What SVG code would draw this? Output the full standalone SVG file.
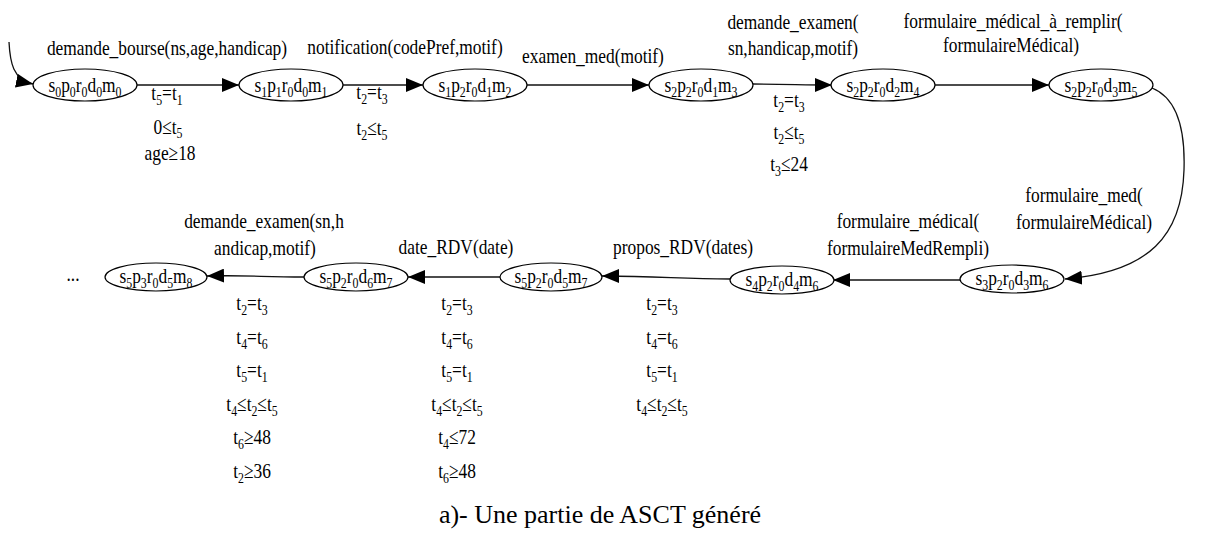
<svg xmlns="http://www.w3.org/2000/svg" width="1217" height="545" viewBox="0 0 1217 545">
<style>
.bg{fill:#fff}
.node ellipse{fill:#fff;stroke:#000;stroke-width:1.2}
.t{font-size:22px;fill:#000;text-anchor:middle}
.s{font-size:15px}
.title{font-size:26px;fill:#000;text-anchor:middle}
.edge{fill:none;stroke:#111;stroke-width:1.3;marker-end:url(#ah)}
</style>
<defs>
<marker id="ah" markerUnits="userSpaceOnUse" viewBox="0 0 17 14" refX="17" refY="7" markerWidth="17" markerHeight="14" orient="auto">
<path d="M0,0 L17,7 L0,14 z" fill="#000"/>
</marker>
</defs>
<rect class="bg" x="0" y="0" width="1217" height="545"/>

<g id="connectors">
<path class="edge" d="M9,42 C10,62 13,80 33,84"/>
<path class="edge" d="M137,85 L239,85"/>
<path class="edge" d="M343,85 L423,85"/>
<path class="edge" d="M527,85 L649,85"/>
<path class="edge" d="M753,84 C790,84 800,85 832,85"/>
<path class="edge" d="M935,85 L1049,85"/>
<path class="edge" d="M1152,88 C1182,100 1185,140 1184,170 C1182,235 1150,272 1065,279"/>
<path class="edge" d="M960,280 L833,280"/>
<path class="edge" d="M730,279 C680,279 660,276 602,276"/>
<path class="edge" d="M500,277 L408,277"/>
<path class="edge" d="M304,277 C260,277 250,275 207,276"/>

<g id="e0-label">
<text class="t" font-family="Liberation Serif" transform="translate(167,55) scale(0.79,1)">demande_bourse(ns,age,handicap)</text>
<text class="t" font-family="Liberation Serif" transform="translate(167,100) scale(0.79,1)">t<tspan class="s" dy="5">5</tspan><tspan dy="-5">=t</tspan><tspan class="s" dy="5">1</tspan></text>
<text class="t" font-family="Liberation Serif" transform="translate(168,134) scale(0.79,1)">0≤t<tspan class="s" dy="4">5</tspan></text>
<text class="t" font-family="Liberation Serif" transform="translate(170,160) scale(0.79,1)">age≥18</text>
</g>
<g id="e1-label">
<text class="t" font-family="Liberation Serif" transform="translate(405,54) scale(0.79,1)">notification(codePref,motif)</text>
<text class="t" font-family="Liberation Serif" transform="translate(372,99) scale(0.79,1)">t<tspan class="s" dy="5">2</tspan><tspan dy="-5">=t</tspan><tspan class="s" dy="5">3</tspan></text>
<text class="t" font-family="Liberation Serif" transform="translate(372,135) scale(0.79,1)">t<tspan class="s" dy="5">2</tspan><tspan dy="-5">≤t</tspan><tspan class="s" dy="5">5</tspan></text>
</g>
<g id="e2-label">
<text class="t" font-family="Liberation Serif" transform="translate(593,63) scale(0.79,1)">examen_med(motif)</text>
</g>
<g id="e3-label">
<text class="t" font-family="Liberation Serif" transform="translate(793,29) scale(0.79,1)">demande_examen(</text>
<text class="t" font-family="Liberation Serif" transform="translate(793,55) scale(0.79,1)">sn,handicap,motif)</text>
<text class="t" font-family="Liberation Serif" transform="translate(789,107) scale(0.79,1)">t<tspan class="s" dy="5">2</tspan><tspan dy="-5">=t</tspan><tspan class="s" dy="5">3</tspan></text>
<text class="t" font-family="Liberation Serif" transform="translate(789,139) scale(0.79,1)">t<tspan class="s" dy="5">2</tspan><tspan dy="-5">≤t</tspan><tspan class="s" dy="5">5</tspan></text>
<text class="t" font-family="Liberation Serif" transform="translate(789,171) scale(0.79,1)">t<tspan class="s" dy="5">3</tspan><tspan dy="-5">≤24</tspan></text>
</g>
<g id="e4-label">
<text class="t" font-family="Liberation Serif" transform="translate(1013,28) scale(0.79,1)">formulaire_médical_à_remplir(</text>
<text class="t" font-family="Liberation Serif" transform="translate(1011,52) scale(0.79,1)">formulaireMédical)</text>
</g>
<g id="e5-label">
<text class="t" font-family="Liberation Serif" transform="translate(1084,202) scale(0.79,1)">formulaire_med(</text>
<text class="t" font-family="Liberation Serif" transform="translate(1084,229) scale(0.79,1)">formulaireMédical)</text>
</g>
<g id="e6-label">
<text class="t" font-family="Liberation Serif" transform="translate(908,228) scale(0.79,1)">formulaire_médical(</text>
<text class="t" font-family="Liberation Serif" transform="translate(908,255) scale(0.79,1)">formulaireMedRempli)</text>
</g>
<g id="e7-label">
<text class="t" font-family="Liberation Serif" transform="translate(683,254) scale(0.79,1)">propos_RDV(dates)</text>
<text class="t" font-family="Liberation Serif" transform="translate(662,310) scale(0.79,1)">t<tspan class="s" dy="5">2</tspan><tspan dy="-5">=t</tspan><tspan class="s" dy="5">3</tspan></text>
<text class="t" font-family="Liberation Serif" transform="translate(662,343.5) scale(0.79,1)">t<tspan class="s" dy="5">4</tspan><tspan dy="-5">=t</tspan><tspan class="s" dy="5">6</tspan></text>
<text class="t" font-family="Liberation Serif" transform="translate(662,377) scale(0.79,1)">t<tspan class="s" dy="5">5</tspan><tspan dy="-5">=t</tspan><tspan class="s" dy="5">1</tspan></text>
<text class="t" font-family="Liberation Serif" transform="translate(662,410.5) scale(0.79,1)">t<tspan class="s" dy="5">4</tspan><tspan dy="-5">≤t</tspan><tspan class="s" dy="5">2</tspan><tspan dy="-5">≤t</tspan><tspan class="s" dy="5">5</tspan></text>
</g>
<g id="e8-label">
<text class="t" font-family="Liberation Serif" transform="translate(456,254) scale(0.79,1)">date_RDV(date)</text>
<text class="t" font-family="Liberation Serif" transform="translate(457,310) scale(0.79,1)">t<tspan class="s" dy="5">2</tspan><tspan dy="-5">=t</tspan><tspan class="s" dy="5">3</tspan></text>
<text class="t" font-family="Liberation Serif" transform="translate(457,343.5) scale(0.79,1)">t<tspan class="s" dy="5">4</tspan><tspan dy="-5">=t</tspan><tspan class="s" dy="5">6</tspan></text>
<text class="t" font-family="Liberation Serif" transform="translate(457,377) scale(0.79,1)">t<tspan class="s" dy="5">5</tspan><tspan dy="-5">=t</tspan><tspan class="s" dy="5">1</tspan></text>
<text class="t" font-family="Liberation Serif" transform="translate(457,410.5) scale(0.79,1)">t<tspan class="s" dy="5">4</tspan><tspan dy="-5">≤t</tspan><tspan class="s" dy="5">2</tspan><tspan dy="-5">≤t</tspan><tspan class="s" dy="5">5</tspan></text>
<text class="t" font-family="Liberation Serif" transform="translate(457,444) scale(0.79,1)">t<tspan class="s" dy="5">4</tspan><tspan dy="-5">≤72</tspan></text>
<text class="t" font-family="Liberation Serif" transform="translate(457,477.5) scale(0.79,1)">t<tspan class="s" dy="5">6</tspan><tspan dy="-5">≥48</tspan></text>
</g>
<g id="e9-label">
<text class="t" font-family="Liberation Serif" transform="translate(264,228) scale(0.79,1)">demande_examen(sn,h</text>
<text class="t" font-family="Liberation Serif" transform="translate(265,255) scale(0.79,1)">andicap,motif)</text>
<text class="t" font-family="Liberation Serif" transform="translate(252,310) scale(0.79,1)">t<tspan class="s" dy="5">2</tspan><tspan dy="-5">=t</tspan><tspan class="s" dy="5">3</tspan></text>
<text class="t" font-family="Liberation Serif" transform="translate(252,343.5) scale(0.79,1)">t<tspan class="s" dy="5">4</tspan><tspan dy="-5">=t</tspan><tspan class="s" dy="5">6</tspan></text>
<text class="t" font-family="Liberation Serif" transform="translate(252,377) scale(0.79,1)">t<tspan class="s" dy="5">5</tspan><tspan dy="-5">=t</tspan><tspan class="s" dy="5">1</tspan></text>
<text class="t" font-family="Liberation Serif" transform="translate(252,410.5) scale(0.79,1)">t<tspan class="s" dy="5">4</tspan><tspan dy="-5">≤t</tspan><tspan class="s" dy="5">2</tspan><tspan dy="-5">≤t</tspan><tspan class="s" dy="5">5</tspan></text>
<text class="t" font-family="Liberation Serif" transform="translate(252,444) scale(0.79,1)">t<tspan class="s" dy="5">6</tspan><tspan dy="-5">≥48</tspan></text>
<text class="t" font-family="Liberation Serif" transform="translate(252,477.5) scale(0.79,1)">t<tspan class="s" dy="5">2</tspan><tspan dy="-5">≥36</tspan></text>
</g>
</g>

<g id="nodes">
<g id="n0" class="node"><ellipse cx="85" cy="85" rx="52" ry="16"/><text class="t" font-family="Liberation Serif" transform="translate(85,92) scale(0.79,1)">s<tspan class="s" dy="5">0</tspan><tspan dy="-5">p</tspan><tspan class="s" dy="5">0</tspan><tspan dy="-5">r</tspan><tspan class="s" dy="5">0</tspan><tspan dy="-5">d</tspan><tspan class="s" dy="5">0</tspan><tspan dy="-5">m</tspan><tspan class="s" dy="5">0</tspan></text></g>
<g id="n1" class="node"><ellipse cx="291" cy="85" rx="52" ry="16"/><text class="t" font-family="Liberation Serif" transform="translate(291,92) scale(0.79,1)">s<tspan class="s" dy="5">1</tspan><tspan dy="-5">p</tspan><tspan class="s" dy="5">1</tspan><tspan dy="-5">r</tspan><tspan class="s" dy="5">0</tspan><tspan dy="-5">d</tspan><tspan class="s" dy="5">0</tspan><tspan dy="-5">m</tspan><tspan class="s" dy="5">1</tspan></text></g>
<g id="n2" class="node"><ellipse cx="475" cy="85" rx="52" ry="16"/><text class="t" font-family="Liberation Serif" transform="translate(475,92) scale(0.79,1)">s<tspan class="s" dy="5">1</tspan><tspan dy="-5">p</tspan><tspan class="s" dy="5">2</tspan><tspan dy="-5">r</tspan><tspan class="s" dy="5">0</tspan><tspan dy="-5">d</tspan><tspan class="s" dy="5">1</tspan><tspan dy="-5">m</tspan><tspan class="s" dy="5">2</tspan></text></g>
<g id="n3" class="node"><ellipse cx="701" cy="85" rx="52" ry="16"/><text class="t" font-family="Liberation Serif" transform="translate(701,92) scale(0.79,1)">s<tspan class="s" dy="5">2</tspan><tspan dy="-5">p</tspan><tspan class="s" dy="5">2</tspan><tspan dy="-5">r</tspan><tspan class="s" dy="5">0</tspan><tspan dy="-5">d</tspan><tspan class="s" dy="5">1</tspan><tspan dy="-5">m</tspan><tspan class="s" dy="5">3</tspan></text></g>
<g id="n4" class="node"><ellipse cx="883" cy="85" rx="52" ry="16"/><text class="t" font-family="Liberation Serif" transform="translate(883,92) scale(0.79,1)">s<tspan class="s" dy="5">2</tspan><tspan dy="-5">p</tspan><tspan class="s" dy="5">2</tspan><tspan dy="-5">r</tspan><tspan class="s" dy="5">0</tspan><tspan dy="-5">d</tspan><tspan class="s" dy="5">2</tspan><tspan dy="-5">m</tspan><tspan class="s" dy="5">4</tspan></text></g>
<g id="n5" class="node"><ellipse cx="1101" cy="85" rx="52" ry="16"/><text class="t" font-family="Liberation Serif" transform="translate(1101,92) scale(0.79,1)">s<tspan class="s" dy="5">2</tspan><tspan dy="-5">p</tspan><tspan class="s" dy="5">2</tspan><tspan dy="-5">r</tspan><tspan class="s" dy="5">0</tspan><tspan dy="-5">d</tspan><tspan class="s" dy="5">3</tspan><tspan dy="-5">m</tspan><tspan class="s" dy="5">5</tspan></text></g>
<g id="n6" class="node"><ellipse cx="1012" cy="279" rx="52" ry="14"/><text class="t" font-family="Liberation Serif" transform="translate(1012,285) scale(0.79,1)">s<tspan class="s" dy="5">3</tspan><tspan dy="-5">p</tspan><tspan class="s" dy="5">2</tspan><tspan dy="-5">r</tspan><tspan class="s" dy="5">0</tspan><tspan dy="-5">d</tspan><tspan class="s" dy="5">3</tspan><tspan dy="-5">m</tspan><tspan class="s" dy="5">6</tspan></text></g>
<g id="n7" class="node"><ellipse cx="782" cy="280" rx="52" ry="14"/><text class="t" font-family="Liberation Serif" transform="translate(782,286) scale(0.79,1)">s<tspan class="s" dy="5">4</tspan><tspan dy="-5">p</tspan><tspan class="s" dy="5">2</tspan><tspan dy="-5">r</tspan><tspan class="s" dy="5">0</tspan><tspan dy="-5">d</tspan><tspan class="s" dy="5">4</tspan><tspan dy="-5">m</tspan><tspan class="s" dy="5">6</tspan></text></g>
<g id="n8" class="node"><ellipse cx="551" cy="277" rx="51" ry="14"/><text class="t" font-family="Liberation Serif" transform="translate(551,283) scale(0.79,1)">s<tspan class="s" dy="5">5</tspan><tspan dy="-5">p</tspan><tspan class="s" dy="5">2</tspan><tspan dy="-5">r</tspan><tspan class="s" dy="5">0</tspan><tspan dy="-5">d</tspan><tspan class="s" dy="5">5</tspan><tspan dy="-5">m</tspan><tspan class="s" dy="5">7</tspan></text></g>
<g id="n9" class="node"><ellipse cx="356" cy="277" rx="52" ry="14"/><text class="t" font-family="Liberation Serif" transform="translate(356,283) scale(0.79,1)">s<tspan class="s" dy="5">5</tspan><tspan dy="-5">p</tspan><tspan class="s" dy="5">2</tspan><tspan dy="-5">r</tspan><tspan class="s" dy="5">0</tspan><tspan dy="-5">d</tspan><tspan class="s" dy="5">6</tspan><tspan dy="-5">m</tspan><tspan class="s" dy="5">7</tspan></text></g>
<g id="n10" class="node"><ellipse cx="156" cy="277" rx="51" ry="14"/><text class="t" font-family="Liberation Serif" transform="translate(156,283) scale(0.79,1)">s<tspan class="s" dy="5">5</tspan><tspan dy="-5">p</tspan><tspan class="s" dy="5">3</tspan><tspan dy="-5">r</tspan><tspan class="s" dy="5">0</tspan><tspan dy="-5">d</tspan><tspan class="s" dy="5">5</tspan><tspan dy="-5">m</tspan><tspan class="s" dy="5">8</tspan></text></g>
<g id="ellipsis"><text class="t" font-family="Liberation Serif" transform="translate(73,281) scale(0.79,1)">...</text></g>
</g>

<g id="caption"><text class="title" font-family="Liberation Serif" x="600" y="523">a)- Une partie de ASCT généré</text></g>
</svg>
